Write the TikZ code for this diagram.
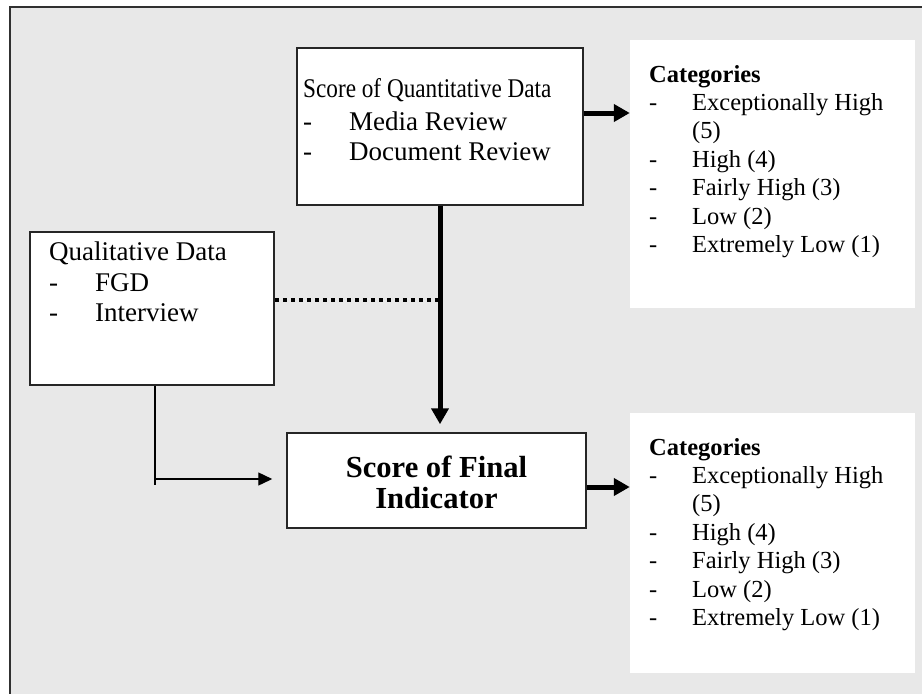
\documentclass[tikz,border=0pt]{standalone}
\usepackage{fontspec}
\setmainfont{Liberation Serif}
\usetikzlibrary{arrows.meta}
\definecolor{bg}{HTML}{E8E8E8}
\definecolor{frame}{HTML}{303030}
\newcommand{\itmA}[1]{\makebox[46pt][l]{-}#1}
\newcommand{\itmB}[1]{\makebox[43pt][l]{-}#1}
\tikzset{
  whitebox/.style={draw=black!85, line width=1.5pt, fill=white, inner sep=0pt},
  catbox/.style={fill=white, inner sep=0pt},
  txt/.style={inner sep=0pt, anchor=base west},
  bigfont/.style={font=\fontsize{27}{30}\selectfont},
  catfont/.style={font=\fontsize{24.5}{28.4}\selectfont},
  thickarrow/.style={line width=5pt, -{Triangle[length=16pt,width=17pt]}},
  thinarrow/.style={line width=1.4pt, -{Triangle[length=14pt,width=13pt]}},
  dotline/.style={line width=3.5pt, dash pattern=on 4pt off 4pt},
}
\begin{document}
\begin{tikzpicture}[x=1pt,y=-1pt]
\useasboundingbox (0,0) rectangle (922,694);
\begin{scope}
\clip (0,0) rectangle (922,694);
\fill[bg] (10,7) rectangle (940,710);
\draw[frame, line width=2pt] (10,710) -- (10,7) -- (940,7);
\end{scope}
% boxes
\node[whitebox, minimum width=286pt, minimum height=157pt] (quant) at (440,126.5) {};
\node[whitebox, minimum width=244pt, minimum height=153pt] (qual) at (152,308.5) {};
\node[whitebox, minimum width=299pt, minimum height=95pt] (final) at (436.5,480.5) {};
\node[catbox, minimum width=285pt, minimum height=268pt] (cat1) at (772.5,174) {};
\node[catbox, minimum width=285pt, minimum height=260pt] (cat2) at (772.5,543) {};
% texts
\node[txt, bigfont] (quantA) at (303,97) {\scalebox{0.86}[1]{Score of Quantitative Data}};
\node[txt, bigfont] (quantB) at (303,130) {\begin{tabular}[t]{@{}l@{}}\itmA{Media Review}\\\itmA{Document Review}\end{tabular}};
\node[txt, bigfont] (qualT) at (49,260) {\begin{tabular}[t]{@{}l@{}}Qualitative Data\\[1pt]\itmA{FGD}\\\itmA{Interview}\end{tabular}};
\node[inner sep=0pt, anchor=base, font=\fontsize{30.6}{31.5}\selectfont\bfseries] (finalT) at (436.5,477) {\begin{tabular}[t]{@{}c@{}}Score of Final\\Indicator\end{tabular}};
\node[txt, catfont] (cat1T) at (649,82) {\begin{tabular}[t]{@{}l@{}}\textbf{Categories}\\\itmB{Exceptionally High}\\\hspace{43pt}(5)\\\itmB{High (4)}\\\itmB{Fairly High (3)}\\\itmB{Low (2)}\\\itmB{Extremely Low (1)}\end{tabular}};
\node[txt, catfont] (cat2T) at (649,455) {\begin{tabular}[t]{@{}l@{}}\textbf{Categories}\\\itmB{Exceptionally High}\\\hspace{43pt}(5)\\\itmB{High (4)}\\\itmB{Fairly High (3)}\\\itmB{Low (2)}\\\itmB{Extremely Low (1)}\end{tabular}};
% connectors
\coordinate (a1) at (0,113);
\coordinate (a2) at (0,487);
\coordinate (d) at (0,300);
\coordinate (q) at (155,0);
\draw[thickarrow] (quant.east |- a1) -- (cat1.west |- a1);
\draw[thickarrow] (final.east |- a2) -- (cat2.west |- a2);
\draw[thickarrow] (quant.south) -- ([yshift=8pt]final.north -| quant.south);
\draw[dotline] (qual.east |- d) -- ([xshift=-2.5pt]quant.south |- d);
\draw[line width=1.4pt] (qual.south -| q) -- (q |- 0,485);
\draw[thinarrow] (q |- 0,479) -- ([xshift=-14pt]final.west |- 0,479);
\end{tikzpicture}
\end{document}
